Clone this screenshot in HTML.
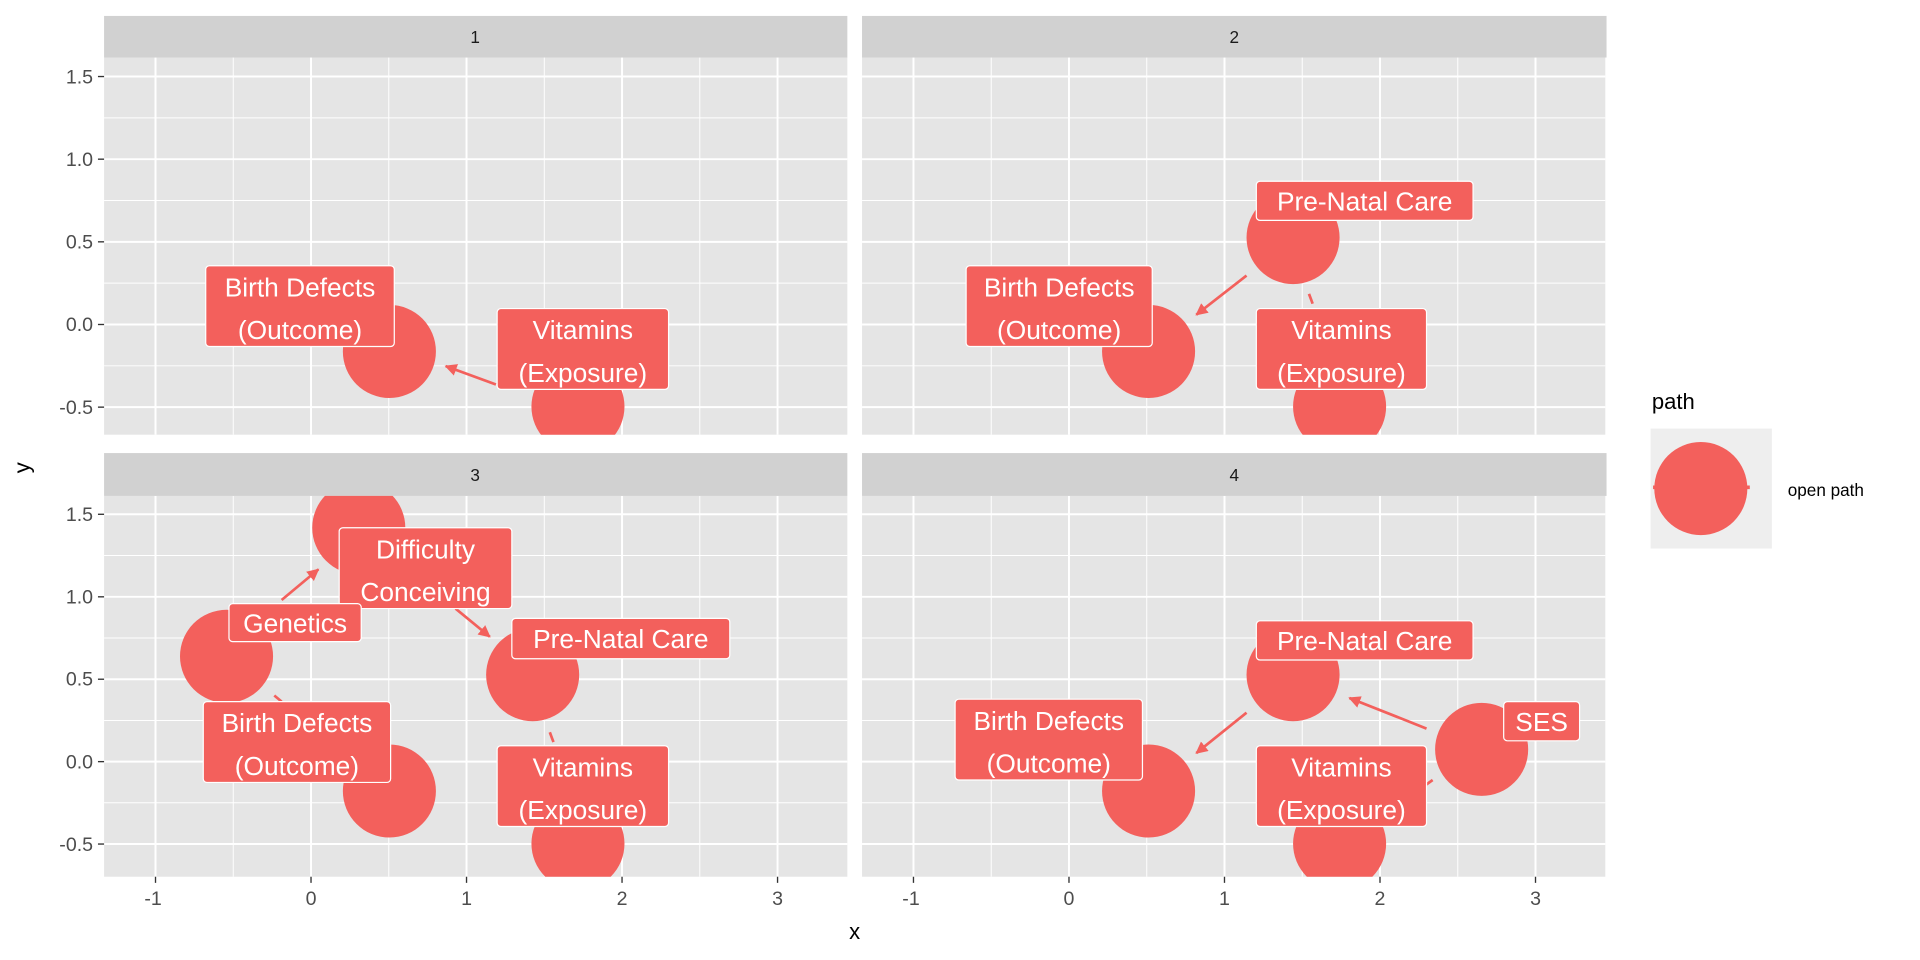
<!DOCTYPE html>
<html><head><meta charset="utf-8"><style>
html,body{margin:0;padding:0;background:#fff;}
svg{display:block;font-family:"Liberation Sans",Arial,sans-serif;}
.lbl{fill:#fff;font-size:21.5px;text-anchor:middle;}
.box{fill:#F3605C;stroke:#fff;stroke-width:1;}
.nd{fill:#F3605C;}
.ar{stroke:#F3605C;stroke-width:2.2;fill:none;}
.tk{font-size:16px;fill:#4d4d4d;}
.mj{stroke:#fff;stroke-width:1.6;}
.mn{stroke:#fff;stroke-width:0.8;}
</style></head><body>
<svg width="1920" height="960" viewBox="0 0 1568 784" preserveAspectRatio="none">
<defs>
<marker id="ah" viewBox="0 0 10 10" refX="9" refY="5" markerWidth="4.5" markerHeight="4.5" orient="auto" markerUnits="strokeWidth"><path d="M0,0 L10,5 L0,10 z" fill="#F3605C"/></marker>
<clipPath id="c1"><rect x="85" y="47" width="607" height="308"/></clipPath>
<clipPath id="c2"><rect x="704" y="47" width="608" height="308"/></clipPath>
<clipPath id="c3"><rect x="85" y="405" width="607" height="311"/></clipPath>
<clipPath id="c4"><rect x="704" y="405" width="608" height="311"/></clipPath>
<g id="gtop">
<rect x="0" y="47" width="607" height="308" fill="#e5e5e5"/>
<g class="mn"><line x1="105.5" y1="47" x2="105.5" y2="355"/><line x1="232.5" y1="47" x2="232.5" y2="355"/><line x1="359.5" y1="47" x2="359.5" y2="355"/><line x1="486.5" y1="47" x2="486.5" y2="355"/>
<line x1="0" y1="96.25" x2="607" y2="96.25"/><line x1="0" y1="163.75" x2="607" y2="163.75"/><line x1="0" y1="231.25" x2="607" y2="231.25"/><line x1="0" y1="298.75" x2="607" y2="298.75"/></g>
<g class="mj"><line x1="42" y1="47" x2="42" y2="355"/><line x1="169" y1="47" x2="169" y2="355"/><line x1="296" y1="47" x2="296" y2="355"/><line x1="423" y1="47" x2="423" y2="355"/><line x1="550" y1="47" x2="550" y2="355"/>
<line x1="0" y1="62.5" x2="607" y2="62.5"/><line x1="0" y1="130" x2="607" y2="130"/><line x1="0" y1="197.5" x2="607" y2="197.5"/><line x1="0" y1="265" x2="607" y2="265"/><line x1="0" y1="332.5" x2="607" y2="332.5"/></g>
</g>
<g id="gbot">
<rect x="0" y="405" width="607" height="311" fill="#e5e5e5"/>
<g class="mn"><line x1="105.5" y1="405" x2="105.5" y2="716"/><line x1="232.5" y1="405" x2="232.5" y2="716"/><line x1="359.5" y1="405" x2="359.5" y2="716"/><line x1="486.5" y1="405" x2="486.5" y2="716"/>
<line x1="0" y1="453.7" x2="607" y2="453.7"/><line x1="0" y1="521" x2="607" y2="521"/><line x1="0" y1="588.4" x2="607" y2="588.4"/><line x1="0" y1="655.6" x2="607" y2="655.6"/></g>
<g class="mj"><line x1="42" y1="405" x2="42" y2="716"/><line x1="169" y1="405" x2="169" y2="716"/><line x1="296" y1="405" x2="296" y2="716"/><line x1="423" y1="405" x2="423" y2="716"/><line x1="550" y1="405" x2="550" y2="716"/>
<line x1="0" y1="420" x2="607" y2="420"/><line x1="0" y1="487.4" x2="607" y2="487.4"/><line x1="0" y1="554.7" x2="607" y2="554.7"/><line x1="0" y1="622" x2="607" y2="622"/><line x1="0" y1="689.3" x2="607" y2="689.3"/></g>
</g>
</defs>
<rect width="1568" height="784" fill="#fff"/>
<use href="#gtop" x="85"/><use href="#gtop" x="704"/>
<use href="#gbot" x="85"/><use href="#gbot" x="704"/>
<rect x="85" y="13" width="607" height="34" fill="#d1d1d1"/><rect x="704" y="13" width="608" height="34" fill="#d1d1d1"/>
<rect x="85" y="370" width="607" height="35" fill="#d1d1d1"/><rect x="704" y="370" width="608" height="35" fill="#d1d1d1"/>
<g font-size="14" fill="#1a1a1a" text-anchor="middle"><text x="388" y="35">1</text><text x="1008" y="35">2</text><text x="388" y="393">3</text><text x="1008" y="393">4</text></g>

<g clip-path="url(#c1)">
<circle class="nd" cx="318" cy="287" r="38"/><circle class="nd" cx="472" cy="332" r="38"/>
<line class="ar" x1="405" y1="314" x2="364" y2="299" marker-end="url(#ah)"/>
<rect class="box" x="168" y="217" width="154" height="66" rx="3"/><text class="lbl" x="245" y="242">Birth Defects</text><text class="lbl" x="245" y="277">(Outcome)</text>
<rect class="box" x="406" y="252" width="140" height="66" rx="3"/><text class="lbl" x="476" y="277">Vitamins</text><text class="lbl" x="476" y="312">(Exposure)</text>
</g>
<g clip-path="url(#c2)">
<circle class="nd" cx="1056" cy="194" r="38"/><circle class="nd" cx="938" cy="287" r="38"/><circle class="nd" cx="1094" cy="332" r="38"/>
<line class="ar" x1="1018" y1="225" x2="977" y2="257" marker-end="url(#ah)"/>
<line class="ar" x1="1069" y1="240" x2="1072" y2="248"/>
<rect class="box" x="1026" y="148" width="177" height="32" rx="3"/><text class="lbl" x="1114.5" y="172">Pre-Natal Care</text>
<rect class="box" x="789" y="217" width="152" height="66" rx="3"/><text class="lbl" x="865" y="242">Birth Defects</text><text class="lbl" x="865" y="277">(Outcome)</text>
<rect class="box" x="1026" y="252" width="139" height="66" rx="3"/><text class="lbl" x="1095.5" y="277">Vitamins</text><text class="lbl" x="1095.5" y="312">(Exposure)</text>
</g>
<g clip-path="url(#c3)">
<circle class="nd" cx="185" cy="536" r="38"/><circle class="nd" cx="293" cy="431" r="38"/><circle class="nd" cx="435" cy="551" r="38"/><circle class="nd" cx="318" cy="646" r="38"/><circle class="nd" cx="472" cy="689" r="38"/>
<line class="ar" x1="230" y1="490" x2="260" y2="465" marker-end="url(#ah)"/>
<line class="ar" x1="372" y1="497" x2="400" y2="520" marker-end="url(#ah)"/>
<line class="ar" x1="224" y1="568" x2="230" y2="573"/>
<line class="ar" x1="449" y1="598" x2="452" y2="606"/>
<rect class="box" x="277" y="431" width="141" height="66" rx="3"/><text class="lbl" x="347.5" y="456">Difficulty</text><text class="lbl" x="347.5" y="491">Conceiving</text>
<rect class="box" x="187" y="493" width="108" height="31" rx="3"/><text class="lbl" x="241" y="516.5">Genetics</text>
<rect class="box" x="418" y="505" width="178" height="33" rx="3"/><text class="lbl" x="507" y="529">Pre-Natal Care</text>
<rect class="box" x="166" y="573" width="153" height="66" rx="3"/><text class="lbl" x="242.5" y="598">Birth Defects</text><text class="lbl" x="242.5" y="633">(Outcome)</text>
<rect class="box" x="406" y="609" width="140" height="66" rx="3"/><text class="lbl" x="476" y="634">Vitamins</text><text class="lbl" x="476" y="669">(Exposure)</text>
</g>
<g clip-path="url(#c4)">
<circle class="nd" cx="1056" cy="551" r="38"/><circle class="nd" cx="938" cy="646" r="38"/><circle class="nd" cx="1094" cy="689" r="38"/><circle class="nd" cx="1210" cy="612" r="38"/>
<line class="ar" x1="1018" y1="582" x2="977" y2="615" marker-end="url(#ah)"/>
<line class="ar" x1="1165" y1="595" x2="1102" y2="570" marker-end="url(#ah)"/>
<line class="ar" x1="1163" y1="642" x2="1170" y2="637"/>
<rect class="box" x="1026" y="507" width="177" height="32" rx="3"/><text class="lbl" x="1114.5" y="531">Pre-Natal Care</text>
<rect class="box" x="780" y="571" width="153" height="66" rx="3"/><text class="lbl" x="856.5" y="596">Birth Defects</text><text class="lbl" x="856.5" y="631">(Outcome)</text>
<rect class="box" x="1026" y="609" width="139" height="66" rx="3"/><text class="lbl" x="1095.5" y="634">Vitamins</text><text class="lbl" x="1095.5" y="669">(Exposure)</text>
<rect class="box" x="1228" y="573" width="62" height="32" rx="3"/><text class="lbl" x="1259" y="597">SES</text>
</g>

<g stroke="#333" stroke-width="1.1">
<line x1="80" y1="62.5" x2="85" y2="62.5"/><line x1="80" y1="130" x2="85" y2="130"/><line x1="80" y1="197.5" x2="85" y2="197.5"/><line x1="80" y1="265" x2="85" y2="265"/><line x1="80" y1="332.5" x2="85" y2="332.5"/>
<line x1="80" y1="420" x2="85" y2="420"/><line x1="80" y1="487.4" x2="85" y2="487.4"/><line x1="80" y1="554.7" x2="85" y2="554.7"/><line x1="80" y1="622" x2="85" y2="622"/><line x1="80" y1="689.3" x2="85" y2="689.3"/>
<line x1="127" y1="716" x2="127" y2="721"/><line x1="254" y1="716" x2="254" y2="721"/><line x1="381" y1="716" x2="381" y2="721"/><line x1="508" y1="716" x2="508" y2="721"/><line x1="635" y1="716" x2="635" y2="721"/>
<line x1="746" y1="716" x2="746" y2="721"/><line x1="873" y1="716" x2="873" y2="721"/><line x1="1000" y1="716" x2="1000" y2="721"/><line x1="1127" y1="716" x2="1127" y2="721"/><line x1="1254" y1="716" x2="1254" y2="721"/>
</g>
<g class="tk" text-anchor="end">
<text x="76" y="68">1.5</text><text x="76" y="135.5">1.0</text><text x="76" y="203">0.5</text><text x="76" y="270.5">0.0</text><text x="76" y="338">-0.5</text>
<text x="76" y="425.5">1.5</text><text x="76" y="493">1.0</text><text x="76" y="560">0.5</text><text x="76" y="627.5">0.0</text><text x="76" y="695">-0.5</text>
</g>
<g class="tk" text-anchor="middle">
<text x="125" y="739">-1</text><text x="254" y="739">0</text><text x="381" y="739">1</text><text x="508" y="739">2</text><text x="635" y="739">3</text>
<text x="744" y="739">-1</text><text x="873" y="739">0</text><text x="1000" y="739">1</text><text x="1127" y="739">2</text><text x="1254" y="739">3</text>
</g>
<text x="698" y="767" font-size="18" text-anchor="middle" fill="#000">x</text>
<text x="0" y="0" font-size="18" text-anchor="middle" fill="#000" transform="translate(24,382) rotate(-90)">y</text>

<text x="1349" y="334" font-size="18" fill="#000">path</text>
<rect x="1348" y="350" width="99" height="98" fill="#eeeeee"/>
<line x1="1350" y1="398" x2="1429" y2="398" stroke="#F3605C" stroke-width="3"/>
<circle class="nd" cx="1389" cy="399" r="38"/>
<text x="1460" y="405" font-size="14" fill="#000">open path</text>
</svg>
</body></html>
